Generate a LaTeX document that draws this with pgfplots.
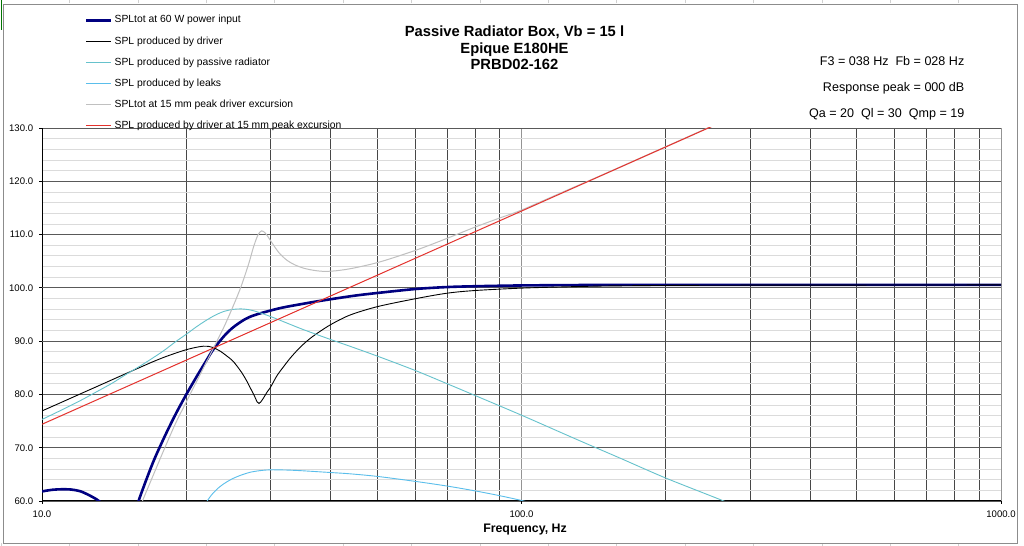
\documentclass[border=0pt]{standalone}
\usepackage{fontspec}
\setmainfont{Liberation Sans}
\usepackage{pgfplots}
\pgfplotsset{compat=1.18}
\definecolor{cNavy}{RGB}{0,0,128}
\definecolor{cTeal}{RGB}{102,194,204}
\definecolor{cLeak}{RGB}{90,190,235}
\definecolor{cSilver}{RGB}{192,192,192}
\definecolor{cRed}{RGB}{228,50,45}
\begin{document}
\begin{tikzpicture}
\begin{scope}[x=1bp,y=1bp]
\path[use as bounding box, fill=white] (0,0) rectangle (1024,546);
\foreach \i in {0,...,14} {
  \draw[black!18, line width=0.6bp] ({68.4*\i+1},542.5) -- ({68.4*\i+1},546);
  \draw[black!18, line width=0.6bp] ({68.4*\i+1},0) -- ({68.4*\i+1},3);
}
\draw[black!45, line width=0.8bp] (3,3) rectangle (1017,542);
\draw[green!45!black, line width=1.2bp] (1.2,516) -- (1.2,546);
\end{scope}
\begin{axis}[
  at={(42bp,45bp)}, anchor=south west,
  scale only axis, width=959bp, height=373bp,
  xmode=log, log basis x=10,
  xmin=10, xmax=1000, ymin=60, ymax=130,
  xtick={10,100,1000}, xticklabels={10.0,100.0,1000.0},
  minor xtick={20,30,40,50,60,70,80,90,200,300,400,500,600,700,800,900},
  ytick={60,70,80,90,100,110,120,130},
  yticklabels={60.0,70.0,80.0,90.0,100.0,110.0,120.0,130.0},
  minor ytick={62,64,66,68,72,74,76,78,82,84,86,88,92,94,96,98,102,104,106,108,112,114,116,118,122,124,126,128},
  grid=both,
  major x grid style={color=black!42, line width=0.8bp},
  minor x grid style={color=black!72, line width=0.75bp},
  major y grid style={color=black!65, line width=0.75bp},
  minor y grid style={color=black!14, line width=0.8bp},
  extra y ticks={90,100}, extra y tick labels={},
  extra y tick style={major tick length=0pt, major grid style={color=black!27, line width=1.6bp}},
  axis x line*=bottom, axis y line*=left,
  axis line style={black, line width=1bp},
  tick align=outside, major tick length=3bp, minor tick length=0pt,
  tick style={black, line width=0.8bp},
  xticklabel style={font=\fontsize{9.6}{11}\selectfont, anchor=base, inner sep=0pt, yshift=-13.3bp},
  yticklabel style={font=\fontsize{9.6}{11}\selectfont, anchor=east, inner sep=0pt, xshift=-5.7bp},
  xlabel={Frequency, Hz},
  xlabel style={at={(axis description cs:0.5,0)}, anchor=base, inner sep=0pt, yshift=-31.3bp, xshift=3.5bp, font=\bfseries\fontsize{12.4}{14}\selectfont},
  legend style={at={(rel axis cs:0.04484,1.30161)}, anchor=north west, draw=none, fill=none,
    inner sep=0pt, outer sep=0pt, row sep=11.4bp, column sep=2bp,
    font=\fontsize{10.4}{12}\selectfont,
    nodes={inner sep=0pt, text height=7.5bp, text depth=2.2bp}},
  legend cell align=left,
  legend image code/.code={\draw[#1] (0bp,0bp) -- (25bp,0bp);},
]
% SPLtot at 60 W
\addplot[cNavy, line width=2.6bp, smooth] table {
15.6 57.0
15.9 60.0
17.0 67.0
18.0 72.0
19.0 76.3
20.0 80.0
21.0 83.3
22.0 86.3
22.75 88.4
24.0 91.0
25.05 92.6
26.5 94.1
28.0 95.0
31.4 96.2
35.0 97.0
38.0 97.55
44.6 98.5
50.8 99.1
60.4 99.8
70.0 100.15
80.0 100.3
100 100.45
150 100.55
200 100.55
1000 100.55
};
\addlegendentry{SPLtot at 60 W power input}
\addplot[cNavy, line width=2.6bp, smooth, forget plot] table {
10 61.8
10.5 62.1
11 62.2
11.5 62.15
12 61.85
12.5 61.15
13 60.3
13.3 59.6
13.6 58.6
};
% driver
\addplot[black, line width=0.9bp, smooth] table {
10 76.9
11 78.55
12 80.07
13 81.46
14 82.75
15 83.95
16 85.06
17 86.1
18 87.0
19 87.75
20 88.4
21 88.85
21.7 89.05
22.3 89.0
22.75 88.8
23.5 88.15
24.3 87.2
25.05 86.2
26.0 84.3
26.7 82.6
27.2 81.2
27.8 79.5
28.1 78.6
28.35 78.3
28.6 78.6
29.0 79.4
29.5 80.5
29.9 81.2
30.9 83.5
31.9 85.2
33.0 86.9
34.5 88.8
36.0 90.3
37.4 91.4
40.0 93.1
43.9 94.9
50.2 96.5
60.4 98.0
70 99.0
80 99.5
100 99.95
125 100.2
150 100.35
200 100.45
300 100.5
1000 100.55
};
\addlegendentry{SPL produced by driver}
% passive radiator
\addplot[cTeal, line width=0.9bp, smooth] table {
10 75.3
11 77.1
12 78.8
13 80.5
14 82.1
15 83.8
16 85.3
17 86.8
18 88.3
19 89.9
20 91.3
21 92.7
22 93.9
23 94.9
24 95.6
25 95.95
26 96.05
27 95.9
28 95.55
30 94.6
32 93.6
35 92.2
40 90.3
44 89.0
50 87.2
60 84.5
70 82.0
80 79.8
100 76.1
130 71.6
160 68.1
200 64.3
264 60.0
300 57.8
};
\addlegendentry{SPL produced by passive radiator}
% leaks
\addplot[cLeak, line width=0.9bp, smooth] table {
21.9 59.4
22.1 60.0
22.7 61.4
23.5 62.7
24.3 63.6
25.05 64.25
26.0 64.85
27.2 65.4
28.5 65.7
29.9 65.85
32 65.82
34.5 65.7
39.9 65.35
43.9 65.1
50.2 64.6
60.4 63.65
70 62.8
80 61.9
90 61.0
100 60.1
105 59.6
};
\addlegendentry{SPL produced by leaks}
% SPLtot at 15 mm
\addplot[cSilver, line width=1bp, smooth] table {
16.0 58.5
16.2 60.0
17.0 64.5
18.0 69.8
19.0 74.6
20.0 78.6
21.0 82.4
22.0 86.0
22.75 88.6
24.0 92.8
25.05 96.6
26.0 100.2
27.0 104.6
27.6 107.6
28.2 109.9
28.7 110.7
29.2 110.3
29.7 109.4
30.2 108.4
31.2 106.6
32.4 105.2
33.7 104.3
35.1 103.7
36.8 103.3
38.6 103.1
41.0 103.2
44.6 103.7
50.8 104.9
60.4 107.1
70 109.3
80 111.4
90 113.1
100 114.6
125 118.4
150 121.5
200 126.5
250 130.4
300 133.6
};
\addlegendentry{SPLtot at 15 mm peak driver excursion}
% driver at 15 mm
\addplot[cRed, line width=1bp] table {
10 74.4
300 133.5
};
\addlegendentry{SPL produced by driver at 15 mm peak excursion}
\end{axis}
\begin{scope}[x=1bp,y=1bp]
\node[anchor=base, inner sep=0pt, font=\bfseries\fontsize{14.8}{16}\selectfont] at (514.5,509) {Passive Radiator Box, Vb = 15 l};
\node[anchor=base, inner sep=0pt, font=\bfseries\fontsize{14.8}{16}\selectfont] at (514.5,492.5) {Epique E180HE};
\node[anchor=base, inner sep=0pt, font=\bfseries\fontsize{14.8}{16}\selectfont] at (514.5,476) {PRBD02-162};
\node[anchor=base east, inner sep=0pt, font=\fontsize{12.6}{14}\selectfont] at (964.5,480) {F3 = 038 Hz\ \ Fb = 028 Hz};
\node[anchor=base east, inner sep=0pt, font=\fontsize{12.6}{14}\selectfont] at (964.5,454.3) {Response peak = 000 dB};
\node[anchor=base east, inner sep=0pt, font=\fontsize{12.6}{14}\selectfont] at (964.5,428.5) {Qa = 20\ \ Ql = 30\ \ Qmp = 19};
\end{scope}
\end{tikzpicture}
\end{document}
